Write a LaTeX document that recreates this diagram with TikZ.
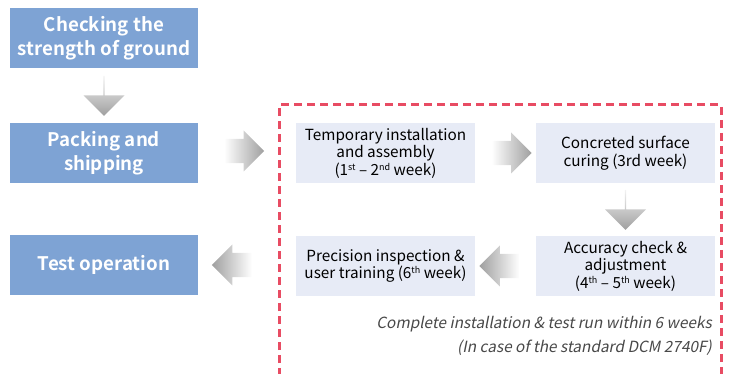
\documentclass[tikz,border=0pt]{standalone}
\usepackage{fontspec}
\setmainfont{Noto Sans CJK KR}[BoldFont={Noto Sans CJK KR Bold},ItalicFont={Noto Sans CJK KR},ItalicFeatures={FakeSlant=0.2}]
\usepackage{xcolor}
\usetikzlibrary{shapes.arrows,positioning,calc}
\definecolor{stepblue}{HTML}{7EA3D4}
\definecolor{steplight}{HTML}{E7EBF6}
\definecolor{framered}{HTML}{E84C63}
\definecolor{notegray}{HTML}{484848}
\newcommand{\ordsup}[1]{\raisebox{5pt}{\fontsize{9}{9}\selectfont #1}}
\tikzset{
  mainbox/.style={fill=stepblue, text=white, font=\bfseries\fontsize{18.7}{24}\selectfont,
    minimum width=188pt, minimum height=60pt, align=center, inner sep=0pt},
  subbox/.style={fill=steplight, text=black, font=\fontsize{15.3}{17.5}\selectfont,
    minimum width=179pt, minimum height=60pt, align=center, inner sep=0pt},
  blockarrow/.style={single arrow, draw=none, inner sep=0pt, inner ysep=10pt,
    minimum height=40pt, minimum width=41pt, single arrow head indent=0pt,
    single arrow tip angle=90},
  rightarr/.style={blockarrow, left color=white, right color=gray!75},
  leftarr/.style={blockarrow, shape border rotate=180, left color=gray!75, right color=white},
  downarr/.style={blockarrow, shape border rotate=270, top color=gray!10, bottom color=gray!75},
}
\begin{document}
\begin{tikzpicture}[x=1pt,y=-1pt]
    \useasboundingbox (0,0) rectangle (734,374);
    % left column
    \node[mainbox] (ground) at (104,38) {Checking the\\strength of ground};
    \node[mainbox] (ship) at (104,153) {Packing and\\shipping};
    \node[mainbox] (test) at (104,265) {Test operation};
    % installation frame
    \draw[framered, line width=3pt, dash pattern=on 8pt off 5pt]
        (279,376) -- (279,105) -- (721,105) -- (721,376);
    \node[subbox] (temp) at (385.5,153) {Temporary installation\\and assembly\\(1\ordsup{st} -- 2\ordsup{nd} week)};
    \node[subbox] (cure) at (625.5,153) {Concreted surface\\curing (3rd week)};
    \node[subbox] (acc) at (625.5,266) {Accuracy check \&\\adjustment\\(4\ordsup{th} -- 5\ordsup{th} week)};
    \node[subbox] (prec) at (385.5,266) {Precision inspection \&\\user training (6\ordsup{th} week)};
    % block arrows
    \node[downarr] (a1) at ($(ground.south)!0.5!(ship.north)$) {};
    \node[rightarr] (a2) at (238,151) {};
    \node[rightarr] (a3) at ($(temp.east)!0.5!(cure.west)$) {};
    \node[downarr] (a4) at ($(cure.south)!0.5!(acc.north)$) {};
    \node[leftarr] (a5) at ($(acc.west)!0.5!(prec.east)$) {};
    \node[leftarr] (a6) at (238,265) {};
    % note
    \node[anchor=north east, align=right, text=notegray, font=\itshape\fontsize{15.4}{24}\selectfont,
        inner sep=0pt] (note) at (712,316) {Complete installation \& test run within 6 weeks\\(In case of the standard DCM 2740F)};
\end{tikzpicture}
\end{document}
